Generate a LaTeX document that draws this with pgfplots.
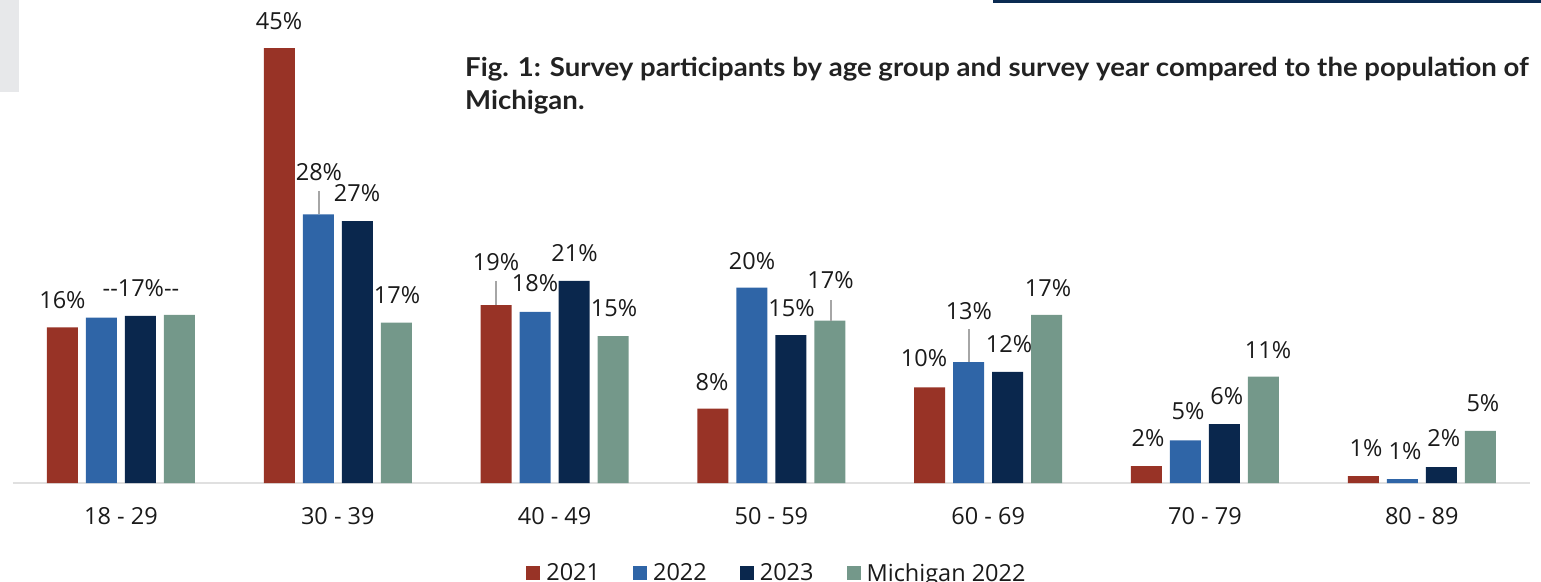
\documentclass[border=0pt]{standalone}
\usepackage{pgfplots}
\pgfplotsset{compat=1.18}
\usepackage{fontspec}
\setmainfont{Open Sans}
\newfontfamily\titlefont{Lato}[FakeStretch=1.06]
\definecolor{c21}{HTML}{983326}
\definecolor{c22}{HTML}{2F65A7}
\definecolor{c23}{HTML}{0A274D}
\definecolor{cmi}{HTML}{74988A}
\definecolor{txt}{HTML}{1A1A1A}
\definecolor{ttl}{HTML}{222222}
\definecolor{lead}{HTML}{A6A6A6}
\definecolor{boxc}{HTML}{0B2B52}
\definecolor{greyblk}{HTML}{E7E8EA}
\newcommand\lbl{\fontsize{23.5bp}{28bp}\selectfont}
\begin{document}
\begin{tikzpicture}
\useasboundingbox (0,0) rectangle (1541bp,582bp);
\fill[greyblk] (0,490bp) rectangle (19bp,582bp);
\fill[boxc] (993bp,579bp) rectangle (1541bp,582bp);
\node[anchor=base west, font=\titlefont\bfseries\fontsize{26bp}{30bp}\selectfont, text=ttl, inner sep=0pt] at (465bp,505bp) {Fig. 1: Survey participants by age group and survey year compared to the population of};
\node[anchor=base west, font=\titlefont\bfseries\fontsize{26bp}{30bp}\selectfont, text=ttl, inner sep=0pt] at (465bp,472bp) {Michigan.};
\begin{axis}[
  at={(12.6bp,99bp)}, anchor=south west, scale only axis,
  width=1517.6bp, height=483.3bp,
  xmin=-0.5, xmax=6.5, ymin=0, ymax=50,
  ybar=8bp, bar width=31bp,
  hide y axis, axis x line*=bottom,
  x axis line style={draw=black!12, line width=1.5bp, -},
  xtick={0,...,6},
  xticklabels={{18 - 29},{30 - 39},{40 - 49},{50 - 59},{60 - 69},{70 - 79},{80 - 89}},
  major tick length=0pt,
  xticklabel style={font=\lbl, text=txt, inner sep=0pt, anchor=north, yshift=-24bp},
  clip=false,
  legend columns=4,
  legend style={at={(axis cs:3.021,-9.31)}, anchor=center, draw=none, fill=none,
    font=\lbl, text=txt, nodes={inner sep=0pt},
    /tikz/every odd column/.append style={column sep=6bp},
    /tikz/every even column/.append style={column sep=33bp}},
  legend image code/.code={\fill[#1] (0bp,-7bp) rectangle (14bp,7bp);},
]
\addplot[fill=c21, draw=none] coordinates {(0,16.1) (1,45.0) (2,18.4) (3,7.7) (4,9.9) (5,1.75) (6,0.7)};
\addplot[fill=c22, draw=none] coordinates {(0,17.1) (1,27.8) (2,17.7) (3,20.2) (4,12.5) (5,4.4) (6,0.4)};
\addplot[fill=c23, draw=none] coordinates {(0,17.3) (1,27.1) (2,20.9) (3,15.3) (4,11.5) (5,6.1) (6,1.65)};
\addplot[fill=cmi, draw=none] coordinates {(0,17.4) (1,16.6) (2,15.2) (3,16.8) (4,17.4) (5,11.0) (6,5.4)};
\legend{2021,2022,2023,Michigan 2022}
% leader lines
\draw[lead, line width=1.5bp] (axis cs:0.913,30.21) -- (axis cs:0.913,27.8);
\draw[lead, line width=1.5bp] (axis cs:1.730,20.9) -- (axis cs:1.730,18.4);
\draw[lead, line width=1.5bp] (axis cs:3.275,18.93) -- (axis cs:3.275,16.8);
\draw[lead, line width=1.5bp] (axis cs:3.911,15.93) -- (axis cs:3.911,12.5);
% data labels
\begin{scope}[every node/.style={font=\lbl, text=txt, inner sep=0pt}]
\node at (axis cs:-0.270,18.93) {16\%};
\node at (axis cs:0.092,20.17) {-{}-17\%-{}-};
\node at (axis cs:0.729,47.79) {45\%};
\node at (axis cs:0.913,32.17) {28\%};
\node at (axis cs:1.089,30.0) {27\%};
\node at (axis cs:1.273,19.45) {17\%};
\node at (axis cs:1.730,22.86) {19\%};
\node at (axis cs:1.910,20.69) {18\%};
\node at (axis cs:2.092,23.79) {21\%};
\node at (axis cs:2.274,18.10) {15\%};
\node at (axis cs:2.726,10.45) {8\%};
\node at (axis cs:2.911,22.97) {20\%};
\node at (axis cs:3.093,18.10) {15\%};
\node at (axis cs:3.273,21.0) {17\%};
\node at (axis cs:3.704,12.93) {10\%};
\node at (axis cs:3.911,17.79) {13\%};
\node at (axis cs:4.096,14.38) {12\%};
\node at (axis cs:4.276,20.17) {17\%};
\node at (axis cs:4.737,4.65) {2\%};
\node at (axis cs:4.922,7.45) {5\%};
\node at (axis cs:5.101,9.0) {6\%};
\node at (axis cs:5.291,13.76) {11\%};
\node at (axis cs:5.743,3.62) {1\%};
\node at (axis cs:5.923,3.31) {1\%};
\node at (axis cs:6.102,4.65) {2\%};
\node at (axis cs:6.282,8.28) {5\%};
\end{scope}
\end{axis}
\end{tikzpicture}
\end{document}
